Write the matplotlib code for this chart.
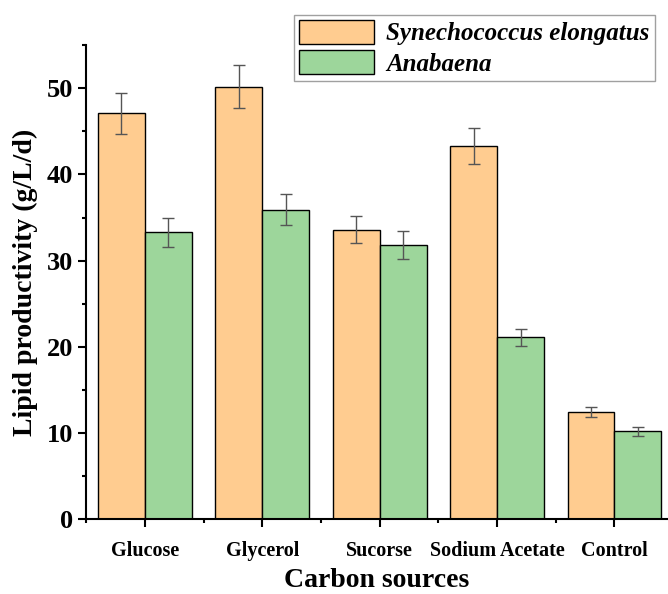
import numpy as np
import matplotlib
matplotlib.use("Agg")
import matplotlib.pyplot as plt
from matplotlib.ticker import MultipleLocator

categories = ["Glucose", "Glycerol", "Sucorse", "Sodium Acetate", "Control"]
syn_vals = [47.1, 50.2, 33.6, 43.3, 12.4]
syn_err = [2.4, 2.5, 1.6, 2.1, 0.6]
ana_vals = [33.3, 35.9, 31.8, 21.1, 10.2]
ana_err = [1.7, 1.8, 1.6, 1.0, 0.5]

plt.rcParams["font.family"] = ["Liberation Serif", "DejaVu Serif"]
plt.rcParams["font.weight"] = "bold"

fig = plt.figure(figsize=(6.68, 5.94), dpi=100)
ax = fig.add_axes([0.129, 0.126, 0.87, 0.798])

x = np.arange(len(categories))
w = 0.4
ek = dict(ecolor="#555555", elinewidth=1, capsize=4, capthick=1)
ax.bar(x - w / 2, syn_vals, w, yerr=syn_err, color="#FFCC90", edgecolor="black",
       linewidth=1, error_kw=ek, label="Synechococcus elongatus")
ax.bar(x + w / 2, ana_vals, w, yerr=ana_err, color="#9DD69B", edgecolor="black",
       linewidth=1, error_kw=ek, label="Anabaena")

ax.set_xlim(-0.5, 4.45)
ax.set_ylim(0, 55)
ax.set_xticks(x)
ax.set_xticklabels(categories, fontsize=14.5, fontweight="bold")
ax.xaxis.set_minor_locator(MultipleLocator(0.5))
ax.yaxis.set_major_locator(MultipleLocator(10))
ax.yaxis.set_minor_locator(MultipleLocator(5))
ax.tick_params(axis="y", labelsize=19, width=1.5, length=6)
ax.tick_params(axis="x", width=1.5, length=6, pad=10)
ax.tick_params(which="minor", width=1.5, length=3)
for lab in ax.get_yticklabels():
    lab.set_fontweight("bold")
for s in ["top", "right"]:
    ax.spines[s].set_visible(False)
for s in ["left", "bottom"]:
    ax.spines[s].set_linewidth(1.5)

ax.set_xlabel("Carbon sources", fontsize=20, fontweight="bold", labelpad=5)
ax.set_ylabel("Lipid productivity (g/L/d)", fontsize=20, fontweight="bold", labelpad=6)

leg = ax.legend(loc="upper right", bbox_to_anchor=(1.0, 1.09), fontsize=18,
                frameon=True, fancybox=False, edgecolor="#888888",
                handlelength=3, handleheight=1.1, borderpad=0.2, labelspacing=0.2,
                handletextpad=0.5)
for t in leg.get_texts():
    t.set_fontstyle("italic")

fig.savefig("out.png", dpi=100)
